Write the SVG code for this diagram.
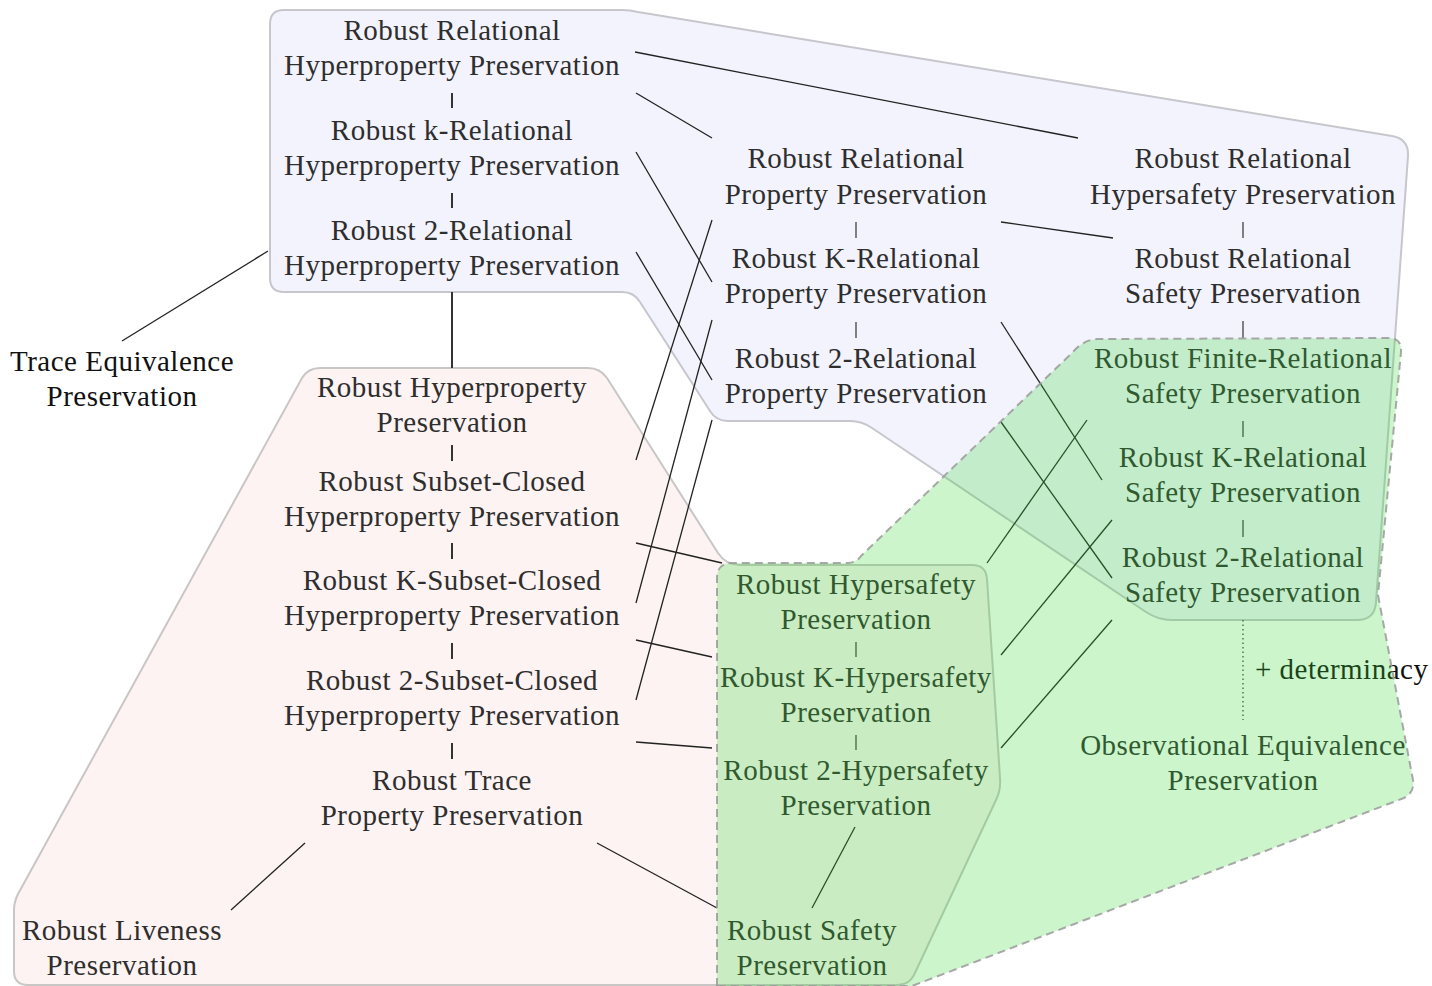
<svg xmlns="http://www.w3.org/2000/svg" width="1432" height="986" viewBox="0 0 1432 986">
<style>
text{font-family:"Liberation Serif","Times New Roman",serif;font-size:29px;letter-spacing:0.5px;fill:#2e2e2e;text-anchor:middle}
.blk{fill:#111}
.lft{text-anchor:start}
.e{stroke:#222;stroke-width:1.3;fill:none}
.t{stroke:#333;stroke-width:1.2;fill:none}
.tk{stroke:#333;stroke-width:2;fill:none}
</style>
<rect width="1432" height="986" fill="#ffffff"/>
<g id="regions">
<path id="region-relational" d="M 284,10 L 622,10 Q 630,10 638,12 L 1392,136 Q 1409,139 1408,156 L 1376,602 Q 1375,620 1357,620 L 1172,620 Q 1158,620 1146,612 L 872,428 Q 862,421 850,421 L 728,421 Q 716,421 710,411 L 640,302 Q 634,292 622,292 L 284,292 Q 270,292 270,278 L 270,24 Q 270,10 284,10 Z" fill="#f3f3fd" stroke="#c6c6cc" stroke-width="2"/>
<path id="region-hyper" d="M 320,368 L 588,368 Q 600,368 607,378 L 718,553 Q 726,565 740,565 L 972,565 Q 986,565 987,579 L 1000,778 Q 1001,790 996,800 L 914,975 Q 909,985 897,985 L 28,985 Q 14,985 14,971 L 14,910 Q 14,902 18,894 L 302,378 Q 308,368 320,368 Z" fill="#fdf3f2" stroke="#c9c6c6" stroke-width="2"/>
</g>
<g id="connectors">
<line class="tk" x1="452" y1="93" x2="452" y2="108"/>
<line class="tk" x1="452" y1="193" x2="452" y2="208"/>
<line class="tk" x1="452" y1="292" x2="452" y2="368"/>
<line class="tk" x1="452" y1="445" x2="452" y2="461"/>
<line class="tk" x1="452" y1="543" x2="452" y2="559"/>
<line class="tk" x1="452" y1="643" x2="452" y2="659"/>
<line class="tk" x1="452" y1="743" x2="452" y2="759"/>
<line class="t" x1="856" y1="222" x2="856" y2="238"/>
<line class="t" x1="856" y1="322" x2="856" y2="338"/>
<line class="t" x1="1243" y1="222" x2="1243" y2="238"/>
<line class="t" x1="1243" y1="321" x2="1243" y2="338"/>
<line class="t" x1="1243" y1="421" x2="1243" y2="437"/>
<line class="t" x1="1243" y1="520" x2="1243" y2="537"/>
<line class="t" x1="856" y1="642" x2="856" y2="657"/>
<line class="t" x1="856" y1="735" x2="856" y2="750"/>
<line class="t" x1="1243" y1="620" x2="1243" y2="720" stroke-dasharray="1.5 3"/>
<line class="e" x1="122" y1="341" x2="268" y2="251"/>
<line class="e" x1="635" y1="52" x2="1078" y2="138"/>
<line class="e" x1="636" y1="93" x2="712" y2="138"/>
<line class="e" x1="636" y1="152" x2="712" y2="282"/>
<line class="e" x1="636" y1="252" x2="712" y2="380"/>
<line class="e" x1="712" y1="220" x2="636" y2="460"/>
<line class="e" x1="712" y1="320" x2="636" y2="603"/>
<line class="e" x1="712" y1="420" x2="636" y2="700"/>
<line class="e" x1="636" y1="543" x2="722" y2="563"/>
<line class="e" x1="636" y1="640" x2="712" y2="657"/>
<line class="e" x1="636" y1="742" x2="712" y2="748"/>
<line class="e" x1="1001" y1="222" x2="1113" y2="238"/>
<line class="e" x1="1001" y1="322" x2="1102" y2="480"/>
<line class="e" x1="1001" y1="422" x2="1112" y2="578"/>
<line class="e" x1="987" y1="563" x2="1087" y2="420"/>
<line class="e" x1="1001" y1="655" x2="1112" y2="520"/>
<line class="e" x1="1001" y1="748" x2="1112" y2="620"/>
<line class="e" x1="305" y1="843" x2="231" y2="910"/>
<line class="e" x1="597" y1="843" x2="717" y2="908"/>
<line class="e" x1="855" y1="827" x2="812" y2="908"/>
</g>
<g id="n-rrhp"><text x="452" y="40">Robust Relational</text><text x="452" y="75">Hyperproperty Preservation</text></g>
<g id="n-rkrhp"><text x="452" y="140">Robust k-Relational</text><text x="452" y="175">Hyperproperty Preservation</text></g>
<g id="n-r2rhp"><text x="452" y="240">Robust 2-Relational</text><text x="452" y="275">Hyperproperty Preservation</text></g>
<g id="n-tep"><text class="blk" x="122" y="371">Trace Equivalence</text><text class="blk" x="122" y="406">Preservation</text></g>
<g id="n-rhp"><text x="452" y="397">Robust Hyperproperty</text><text x="452" y="432">Preservation</text></g>
<g id="n-rschp"><text x="452" y="491">Robust Subset-Closed</text><text x="452" y="526">Hyperproperty Preservation</text></g>
<g id="n-rkschp"><text x="452" y="590">Robust K-Subset-Closed</text><text x="452" y="625">Hyperproperty Preservation</text></g>
<g id="n-r2schp"><text x="452" y="690">Robust 2-Subset-Closed</text><text x="452" y="725">Hyperproperty Preservation</text></g>
<g id="n-rtp"><text x="452" y="790">Robust Trace</text><text x="452" y="825">Property Preservation</text></g>
<g id="n-rlp"><text x="122" y="940">Robust Liveness</text><text x="122" y="975">Preservation</text></g>
<g id="n-rrpp"><text x="856" y="168">Robust Relational</text><text x="856" y="204">Property Preservation</text></g>
<g id="n-rkrpp"><text x="856" y="268">Robust K-Relational</text><text x="856" y="303">Property Preservation</text></g>
<g id="n-r2rpp"><text x="856" y="368">Robust 2-Relational</text><text x="856" y="403">Property Preservation</text></g>
<g id="n-rrhsp"><text x="1243" y="168">Robust Relational</text><text x="1243" y="204">Hypersafety Preservation</text></g>
<g id="n-rrsp"><text x="1243" y="268">Robust Relational</text><text x="1243" y="303">Safety Preservation</text></g>
<g id="n-rfrsp"><text x="1243" y="368">Robust Finite-Relational</text><text x="1243" y="403">Safety Preservation</text></g>
<g id="n-rkrsp"><text x="1243" y="467">Robust K-Relational</text><text x="1243" y="502">Safety Preservation</text></g>
<g id="n-r2rsp"><text x="1243" y="567">Robust 2-Relational</text><text x="1243" y="602">Safety Preservation</text></g>
<g id="n-det"><text class="blk lft" x="1255" y="679">+ determinacy</text></g>
<g id="n-oep"><text x="1243" y="755">Observational Equivalence</text><text x="1243" y="790">Preservation</text></g>
<g id="n-rhsp"><text x="856" y="594">Robust Hypersafety</text><text x="856" y="629">Preservation</text></g>
<g id="n-rkhsp"><text x="856" y="687">Robust K-Hypersafety</text><text x="856" y="722">Preservation</text></g>
<g id="n-r2hsp"><text x="856" y="780">Robust 2-Hypersafety</text><text x="856" y="815">Preservation</text></g>
<g id="n-rsp"><text x="812" y="940">Robust Safety</text><text x="812" y="975">Preservation</text></g>
<g id="region-safety-overlay">
<path d="M 717,986 L 717,578 Q 717,563 732,563 L 848,563 Q 856,563 861,556 L 1073,352 Q 1083,340 1097,339 L 1390,338 Q 1402,339 1401,352 L 1378,595 L 1413,780 Q 1415,792 1404,798 L 912,986 Z" fill="#37d737" fill-opacity="0.255" stroke="#9a9a9a" stroke-opacity="0.85" stroke-width="2" stroke-dasharray="8 5"/>
</g>
</svg>
